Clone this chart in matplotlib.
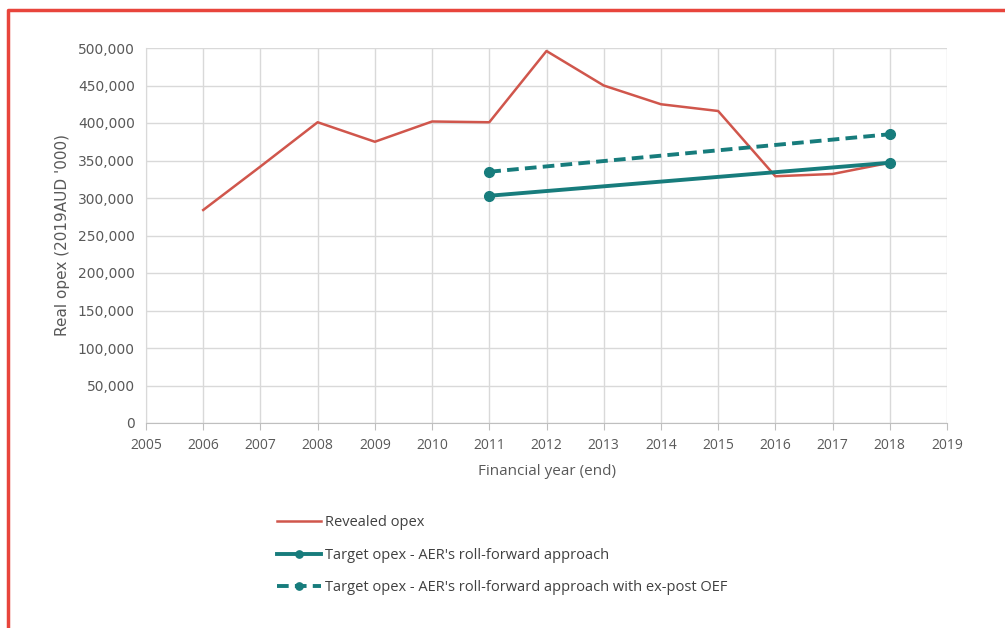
import matplotlib.pyplot as plt
from matplotlib.lines import Line2D
from matplotlib.ticker import FuncFormatter

# Opex series (real, 2019 AUD '000)
years = [2006, 2007, 2008, 2009, 2010, 2011, 2012, 2013, 2014, 2015, 2016, 2017, 2018]
revealed_opex = [284000, 342000, 401000, 375000, 402000, 401000, 496000, 450000,
                 425000, 416000, 329000, 332000, 347000]

target_years = [2011, 2018]
target_opex = [303000, 347000]
target_opex_oef = [335000, 385000]

red = "#d0564c"
teal = "#177c7c"

fig = plt.figure(figsize=(10.05, 6.28), dpi=100)
ax = fig.add_axes([146 / 1005, 1 - 423 / 628, (947 - 146) / 1005, (423 - 48) / 628])

ax.plot(years, revealed_opex, color=red, lw=1.8, label="Revealed opex")
ax.plot(target_years, target_opex, color=teal, lw=2.8, marker="o", ms=7,
        label="Target opex - AER's roll-forward approach")
ax.plot(target_years, target_opex_oef, color=teal, lw=2.8, ls=(0, (3, 1.6)), marker="o", ms=7,
        label="Target opex - AER's roll-forward approach with ex-post OEF")

ax.set_xlim(2005, 2019)
ax.set_ylim(0, 500000)
ax.set_xticks(range(2005, 2020))
ax.set_yticks(range(0, 500001, 50000))
ax.yaxis.set_major_formatter(FuncFormatter(lambda v, p: f"{int(v):,}"))
ax.grid(True, color="#d9d9d9", lw=1)
ax.set_axisbelow(True)

for s in ["top", "right"]:
    ax.spines[s].set_visible(False)
ax.spines["left"].set_color("#d9d9d9")
ax.spines["bottom"].set_color("#bfbfbf")
ax.tick_params(axis="y", length=0, pad=8, labelsize=10, labelcolor="#595959")
ax.tick_params(axis="x", length=5, color="#bfbfbf", pad=6, labelsize=10, labelcolor="#595959")
for t in ax.get_xticklabels():
    t.set_fontfamily("Open Sans")

ax.set_xlabel("Financial year (end)", fontsize=11, color="#595959", family="Open Sans", labelpad=8)
ax.set_ylabel("Real opex (2019AUD '000)", fontsize=11, color="#595959", labelpad=6)

leg = fig.legend(loc="upper left", bbox_to_anchor=(264 / 1005, 1 - 502 / 628), frameon=False,
                 labelspacing=1.2, handlelength=3.0, handletextpad=0.25, markerscale=0.75,
                 prop={"family": "Open Sans", "size": 10.5})
for t in leg.get_texts():
    t.set_color("#404040")

# red frame around the chart
fig.add_artist(Line2D([8 / 1005, 8 / 1005, 1.0], [0.0, 1 - 10 / 628, 1 - 10 / 628],
                      transform=fig.transFigure, color="#e8453c", lw=2.5))

fig.savefig("out.png", dpi=100)
